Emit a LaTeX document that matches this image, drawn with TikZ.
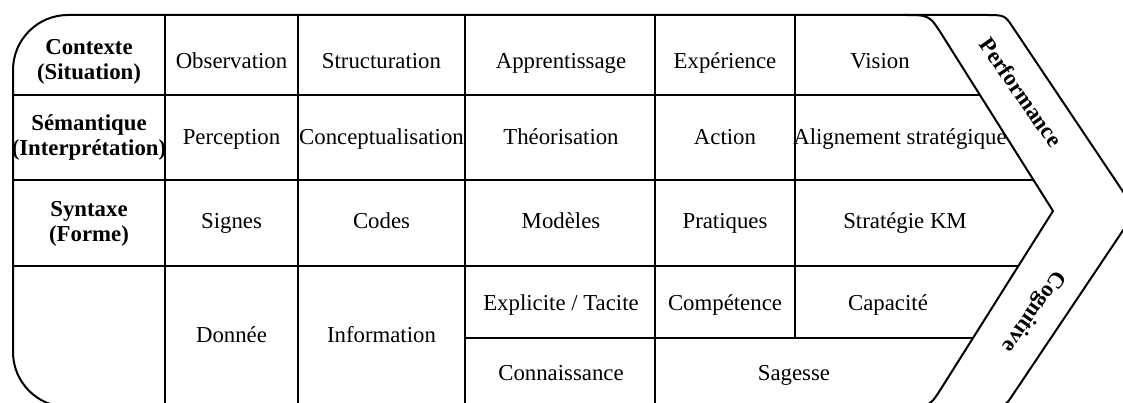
\documentclass[tikz,border=0pt]{standalone}
\usepackage{fontspec}
\setmainfont{Liberation Serif}
\usepackage{tikz}

\begin{document}
\begin{tikzpicture}[x=0.5pt, y=0.5pt,
		txt/.style={font=\fontsize{11.4}{12.5}\selectfont, inner sep=0pt},
		cell/.style={txt, text height=8pt, text depth=2.5pt},
		head/.style={txt, align=center, font=\fontsize{11.4}{12.5}\selectfont\bfseries},
		band/.style={txt, font=\fontsize{11.4}{12.5}\selectfont\bfseries},
		rowline/.style={line width=1.3pt},
		colline/.style={line width=1pt},
		border/.style={line width=1pt, line join=round}]
				\useasboundingbox (0,0) rectangle (1123,402);
				\clip (0,0) rectangle (1123,402);
				% outline with the chevron
				\draw[border] (13,191) -- (13,332) arc[start angle=180, end angle=90, radius=55] -- (985,387) .. controls (1004.7,387) .. (1013,374.5) -- (1136,191) -- (1013,7.5) .. controls (1004.7,-5) .. (985,-5) -- (68,-5) arc[start angle=270, end angle=180, radius=55] -- cycle;
				\draw[border] (904,387) .. controls (929.5,387) .. (942.8,365.9) -- (1053,191) -- (942.8,16.1) .. controls (929.5,-5) .. (904,-5);
				% grid
				\foreach \x in {165,298,465,655}
					\draw[colline] (\x,387) -- (\x,-5);
				\draw[colline] (795,387) -- (795,64);
				\draw[rowline] (13,307) -- (979.9,307);
				\draw[rowline] (13,222) -- (1033.5,222);
				\draw[rowline] (13,136) -- (1018.3,136);
				\draw[rowline] (465,64) -- (973,64);
				% headers
				\node[head] (ctx) at (89,340) {Contexte\\(Situation)};
				\node[head] (sem) at (89,264) {Sémantique\\(Interprétation)};
				\node[head] (syn) at (89,178) {Syntaxe\\(Forme)};
				% cells
				\node[cell] (obs) at (231.5,339) {Observation};
				\node[cell] (perc) at (231.5,263) {Perception};
				\node[cell] (sign) at (231.5,179) {Signes};
				\node[cell] (donn) at (231.5,65) {Donnée};
				\node[cell] (struc) at (381.5,339) {Structuration};
				\node[cell] (concep) at (381.5,263) {Conceptualisation};
				\node[cell] (codes) at (381.5,179) {Codes};
				\node[cell] (info) at (381.5,65) {Information};
				\node[cell] (appr) at (561,339) {Apprentissage};
				\node[cell] (theo) at (561,263) {Théorisation};
				\node[cell] (mod) at (561,179) {Modèles};
				\node[cell] (expl) at (561,97) {Explicite / Tacite};
				\node[cell] (conn) at (561,27) {Connaissance};
				\node[cell] (exper) at (725,339) {Expérience};
				\node[cell] (act) at (725,263) {Action};
				\node[cell] (prat) at (725,179) {Pratiques};
				\node[cell] (comp) at (725,97) {Compétence};
				\node[cell] (vis) at (880,339) {Vision};
				\node[cell] (align) at (900,263) {Alignement stratégique};
				\node[cell] (strat) at (905,179) {Stratégie KM};
				\node[cell] (capa) at (888,97) {Capacité};
				\node[cell] (sag) at (794,27) {Sagesse};
				% band labels
				\node[band, rotate=-55] (perf) at (1021,310) {Performance};
				\node[band, rotate=-125] (cogn) at (1033,91) {Cognitive};
		\end{tikzpicture}
\end{document}
